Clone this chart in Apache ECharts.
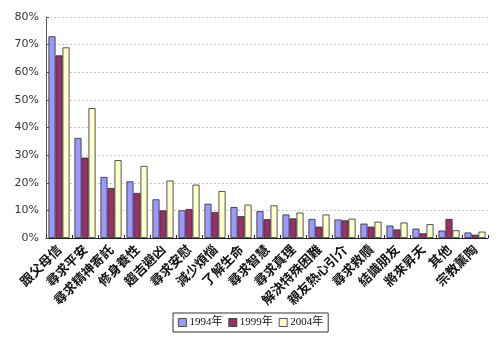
<!DOCTYPE html>
<html>
<head>
<meta charset="utf-8">
<script src="https://cdn.jsdelivr.net/npm/echarts@6/dist/echarts.min.js"></script>
<style>
  html, body { margin: 0; padding: 0; background: #fff; }
  #chart { width: 500px; height: 338px; }
</style>
</head>
<body>
<div id="chart"></div>
<script>
// Reasons for religious belief, share of respondents (%)
var categories = ['跟父母信', '尋求平安', '尋求精神寄託', '修身養性', '趨吉避凶', '尋求安慰',
  '減少煩惱', '了解生命', '尋求智慧', '尋求真理', '解決特殊困難', '親友熱心引介',
  '尋求救贖', '結識朋友', '將來昇天', '其他', '宗教薰陶'];
var seriesNames = ['1994年', '1999年', '2004年'];
var values1994 = [73.0, 36.2, 22.1, 20.5, 14.0, 10.0, 12.4, 11.2, 9.7, 8.5, 6.9, 6.7, 5.2, 4.5, 3.4, 2.7, 2.0];
var values1999 = [66.1, 29.1, 18.1, 16.3, 10.0, 10.5, 9.4, 7.9, 6.8, 7.1, 4.1, 6.4, 4.1, 3.1, 1.7, 6.9, 1.2];
var values2004 = [69.0, 47.0, 28.2, 26.1, 20.8, 19.3, 17.0, 12.1, 11.8, 9.2, 8.5, 7.0, 5.9, 5.6, 5.0, 2.8, 2.3];
var yTicks = { min: 0, max: 80, interval: 10 };

var colors = ['#9999FF', '#993366', '#FFFFCC'];
var allValues = [values1994, values1999, values2004];

var chart = echarts.init(document.getElementById('chart'), null, { renderer: 'canvas' });

var series = seriesNames.map(function (name, i) {
  return {
    name: name,
    type: 'bar',
    data: allValues[i],
    barGap: '0%',
    barCategoryGap: '19%',
    itemStyle: { color: colors[i], borderColor: '#2a2a2a', borderWidth: 0.8 }
  };
});

chart.setOption({
  animation: false,
  backgroundColor: '#ffffff',
  color: colors,
  grid: { left: 46, right: 12, top: 17, bottom: 100, containLabel: false },
  legend: {
    data: seriesNames,
    left: 173,
    top: 313,
    padding: [4, 5, 4, 5],
    itemGap: 6,
    itemWidth: 8,
    itemHeight: 8,
    icon: 'rect',
    borderColor: '#333',
    borderWidth: 1,
    textStyle: { fontFamily: '"Liberation Serif", "Noto Sans CJK TC", serif', fontSize: 11, color: '#111', padding: [0, 0, 0, -2] },
    itemStyle: { borderColor: '#2a2a2a', borderWidth: 0.8 }
  },
  xAxis: {
    type: 'category',
    data: categories,
    axisLine: { lineStyle: { color: '#222', width: 1 } },
    axisTick: { show: true, inside: true, length: 3, lineStyle: { color: '#222' } },
    axisLabel: {
      rotate: 45,
      interval: 0,
      margin: 9,
      fontFamily: '"Noto Sans CJK TC", sans-serif',
      fontSize: 13,
      fontWeight: 'bold',
      color: '#111'
    }
  },
  yAxis: {
    type: 'value',
    min: yTicks.min,
    max: yTicks.max,
    interval: yTicks.interval,
    axisLine: { show: true, lineStyle: { color: '#555', width: 1 } },
    axisTick: { show: true, inside: true, length: 3, lineStyle: { color: '#555' } },
    axisLabel: {
      formatter: '{value}%',
      fontFamily: '"DejaVu Sans", sans-serif',
      fontSize: 11,
      color: '#333',
      margin: 7
    },
    splitLine: { show: true, lineStyle: { color: '#c8c8c8', type: [2, 2], width: 1 } }
  },
  series: series
});
</script>
</body>
</html>
